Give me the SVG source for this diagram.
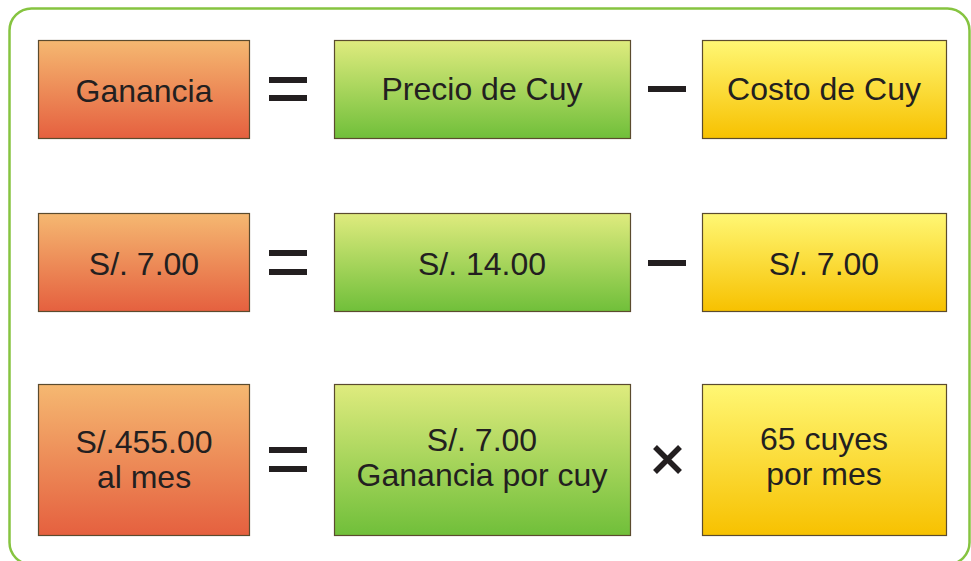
<svg xmlns="http://www.w3.org/2000/svg" width="971" height="561" viewBox="0 0 971 561">
<defs>
<linearGradient id="gO" x1="0" y1="0" x2="0" y2="1"><stop offset="0" stop-color="#f5b871"/><stop offset="1" stop-color="#e5603f"/></linearGradient>
<linearGradient id="gG" x1="0" y1="0" x2="0" y2="1"><stop offset="0" stop-color="#dfeb7e"/><stop offset="1" stop-color="#70bf3a"/></linearGradient>
<linearGradient id="gY" x1="0" y1="0" x2="0" y2="1"><stop offset="0" stop-color="#fff774"/><stop offset="1" stop-color="#f7c100"/></linearGradient>
<style>
.box{stroke:#5b4b2e;stroke-width:1.2}
.o{fill:url(#gO)} .g{fill:url(#gG)} .y{fill:url(#gY)}
text{font-family:"Liberation Sans",Arial,sans-serif;font-size:32px;fill:#231f20;text-anchor:middle}
.op{fill:#231f20}
</style>
</defs>
<rect x="9.5" y="8.5" width="960" height="556" rx="22" fill="#ffffff" stroke="#86c440" stroke-width="2.5"/>
<g id="connectors">
<g class="op"><rect x="269" y="77" width="38" height="6"/><rect x="269" y="95" width="38" height="6"/></g>
<g class="op"><rect x="648" y="86" width="38" height="6"/></g>
<g class="op"><rect x="269" y="250" width="38" height="6"/><rect x="269" y="269" width="38" height="6"/></g>
<g class="op"><rect x="648" y="260" width="38" height="6"/></g>
<g class="op"><rect x="269" y="447" width="38" height="6"/><rect x="269" y="466" width="38" height="6"/></g>
<path d="M655 447 L680 472 M680 447 L655 472" stroke="#231f20" stroke-width="5.5"/>
</g>
<g id="n1"><rect class="box o" x="38.5" y="40.5" width="211" height="98"/><text x="144" y="102">Ganancia</text></g>
<g id="n2"><rect class="box g" x="334.5" y="40.5" width="296" height="98"/><text x="482" y="100">Precio de Cuy</text></g>
<g id="n3"><rect class="box y" x="702.5" y="40.5" width="244" height="98"/><text x="824" y="100">Costo de Cuy</text></g>
<g id="n4"><rect class="box o" x="38.5" y="213.5" width="211" height="98"/><text x="144" y="275">S/. 7.00</text></g>
<g id="n5"><rect class="box g" x="334.5" y="213.5" width="296" height="98"/><text x="482" y="275">S/. 14.00</text></g>
<g id="n6"><rect class="box y" x="702.5" y="213.5" width="244" height="98"/><text x="824" y="275">S/. 7.00</text></g>
<g id="n7"><rect class="box o" x="38.5" y="384.5" width="211" height="151"/><text x="144" y="453">S/.455.00</text><text x="144" y="488">al mes</text></g>
<g id="n8"><rect class="box g" x="334.5" y="384.5" width="296" height="151"/><text x="482" y="451">S/. 7.00</text><text x="482" y="486">Ganancia por cuy</text></g>
<g id="n9"><rect class="box y" x="702.5" y="384.5" width="244" height="151"/><text x="824" y="450">65 cuyes</text><text x="824" y="485">por mes</text></g>
</svg>
